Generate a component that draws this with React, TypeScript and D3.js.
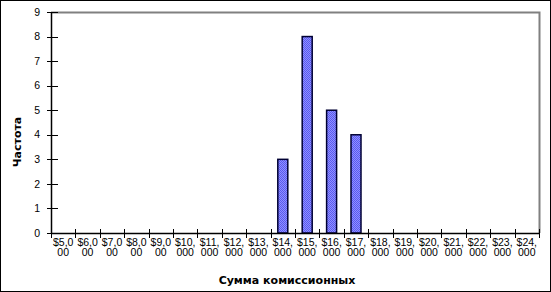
import React from "react";
import * as d3 from "d3";

const categories = [
  "$5,000", "$6,000", "$7,000", "$8,000", "$9,000", "$10,000", "$11,000", "$12,000",
  "$13,000", "$14,000", "$15,000", "$16,000", "$17,000", "$18,000", "$19,000", "$20,000",
  "$21,000", "$22,000", "$23,000", "$24,000",
];
const frequencies = [0, 0, 0, 0, 0, 0, 0, 0, 0, 3, 8, 5, 4, 0, 0, 0, 0, 0, 0, 0];
const yTicks = [0, 1, 2, 3, 4, 5, 6, 7, 8, 9];
const xTitle = "Сумма комиссионных";
const yTitle = "Частота";

function splitLabel(s: string): [string, string] {
  return [s.slice(0, 4), s.slice(4)];
}

export default function App() {
  const W = 551, H = 292;
  const left = 51, right = 539, top = 12, bottom = 233;
  const x = d3.scaleBand<string>().domain(categories).range([left, right]).paddingInner(0).paddingOuter(0);
  const y = d3.scaleLinear().domain([0, 9]).range([bottom, top]);
  const bw = x.bandwidth();
  const barW = 10;

  return (
    <svg width={W} height={H} style={{ position: "absolute", left: 0, top: 0 }}>
      <defs>
        <pattern id="chk" width="2" height="2" patternUnits="userSpaceOnUse">
          <rect width="2" height="2" fill="#9090ff" />
          <rect width="1" height="1" fill="#5a5aee" />
          <rect x="1" y="1" width="1" height="1" fill="#5a5aee" />
        </pattern>
      </defs>
      <rect x={0} y={0} width={W} height={H} fill="#fff" />
      <rect x={0.5} y={0.5} width={W - 1} height={H - 1} fill="none" stroke="#000" />
      <path d={`M${left},${top + 0.5}H${right + 0.5}V${bottom}`} fill="none" stroke="#808080" strokeWidth={2} />
      {categories.map((c, i) => {
        const v = frequencies[i];
        if (!v) return null;
        const cx = (x(c) as number) + bw / 2;
        const y0 = y(v);
        return (
          <rect key={c} x={cx - barW / 2} y={y0} width={barW} height={bottom - y0} fill="url(#chk)" stroke="#000033" strokeWidth={1.5} />
        );
      })}
      <line x1={left + 0.5} x2={left + 0.5} y1={top} y2={bottom} stroke="#000" strokeWidth={1.5} />
      {yTicks.map((t) => (
        <g key={t}>
          <line x1={left - 4} x2={left + 7} y1={Math.round(y(t)) + 0.5} y2={Math.round(y(t)) + 0.5} stroke="#000" />
          <text x={left - 11} y={y(t)} dy="0.35em" textAnchor="end" fontFamily="Liberation Sans, Arial, sans-serif" fontSize={10.5} fill="#000">
            {t}
          </text>
        </g>
      ))}
      <line x1={left} x2={right + 1} y1={bottom + 0.5} y2={bottom + 0.5} stroke="#000" strokeWidth={1.5} />
      {categories.map((c) => (
        <line key={"t" + c} x1={Math.round(x(c) as number) + 0.5} x2={Math.round(x(c) as number) + 0.5} y1={bottom - 4} y2={bottom + 5} stroke="#000" />
      ))}
      <line x1={right + 0.5} x2={right + 0.5} y1={bottom - 4} y2={bottom + 5} stroke="#000" />
      {categories.map((c) => {
        const [l1, l2] = splitLabel(c);
        const cx = (x(c) as number) + bw / 2;
        return (
          <text key={"l" + c} x={cx} textAnchor="middle" fontFamily="Liberation Sans, Arial, sans-serif" fontSize={10.5} fill="#000">
            <tspan x={cx} y={245.5}>{l1}</tspan>
            <tspan x={cx} y={256}>{l2}</tspan>
          </text>
        );
      })}
      <text x={287} y={284} textAnchor="middle" fontFamily="DejaVu Sans, Verdana, sans-serif" fontWeight="bold" fontSize={11} fill="#000">
        {xTitle}
      </text>
      <text transform={`translate(21,142) rotate(-90)`} textAnchor="middle" fontFamily="DejaVu Sans, Verdana, sans-serif" fontWeight="bold" fontSize={11} fill="#000">
        {yTitle}
      </text>
    </svg>
  );
}
